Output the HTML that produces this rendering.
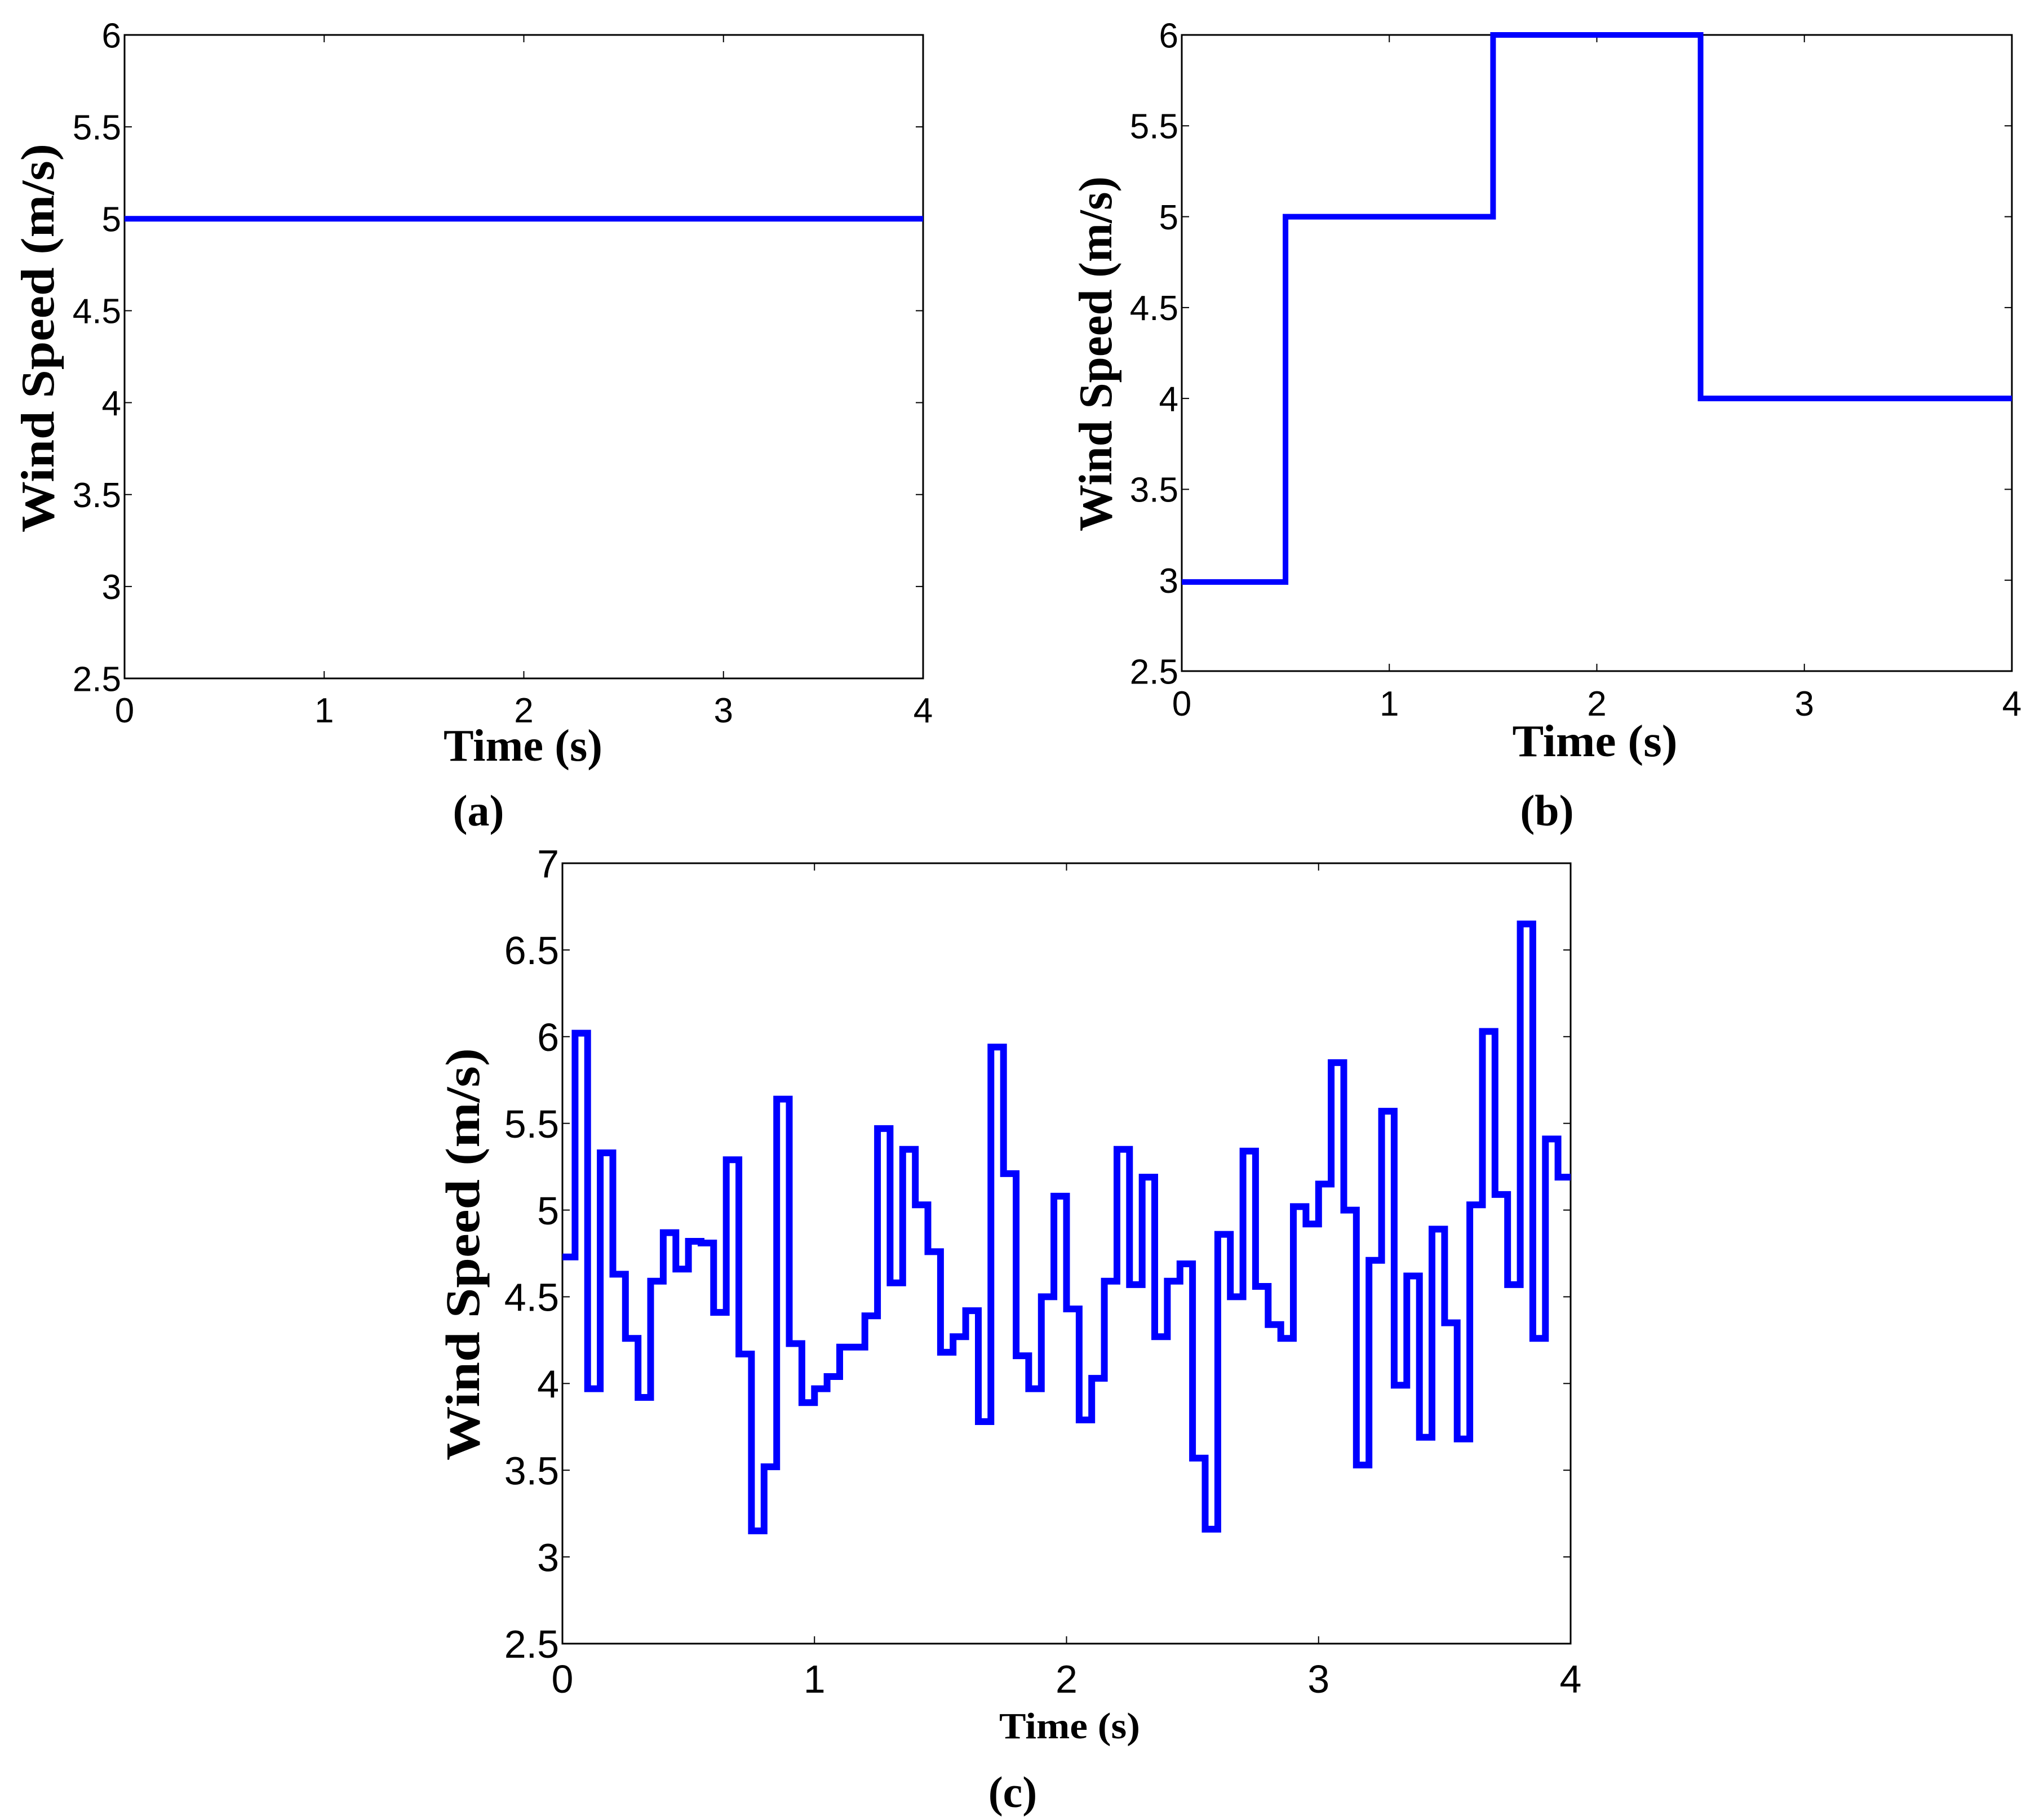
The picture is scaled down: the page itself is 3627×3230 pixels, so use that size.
<!DOCTYPE html>
<html><head><meta charset="utf-8"><style>
html,body{margin:0;padding:0;background:#fff}
svg{display:block}
</style></head><body>
<svg id="fig" width="3627" height="3230" viewBox="0 0 3627 3230" xmlns="http://www.w3.org/2000/svg"></svg>
<script>
// Panel (a) data
const aTimes = [0, 4];
const aValues = [5, 5];
// Panel (b) data (step series)
const bStepStarts = [0, 0.5, 1.5, 2.5];
const bStepValues = [2.99, 5, 6, 4];
// Panel (c) data: step every 0.05 s
const cStepWidth = 0.05;
const cValues = [4.73,6.02,3.97,5.33,4.63,4.26,3.92,4.59,4.87,4.66,4.82,4.81,4.41,5.29,4.17,3.15,3.52,5.64,4.23,3.89,
3.97,4.04,4.21,4.21,4.39,5.47,4.58,5.35,5.03,4.76,4.18,4.27,4.42,3.78,5.94,5.21,4.16,3.97,4.50,5.08,
4.43,3.79,4.03,4.59,5.35,4.57,5.19,4.27,4.59,4.69,3.57,3.16,4.86,4.50,5.34,4.56,4.34,4.26,5.02,4.92,
5.15,5.85,5.00,3.53,4.71,5.57,3.99,4.62,3.69,4.89,4.35,3.68,5.03,6.03,5.09,4.57,6.65,4.26,5.41,5.19];
const xTicks = [0,1,2,3,4];
const yTicksAB = [2.5,3,3.5,4,4.5,5,5.5,6];
const yTicksC = [2.5,3,3.5,4,4.5,5,5.5,6,6.5,7];

const NS = 'http://www.w3.org/2000/svg';
const svg = document.getElementById('fig');
function mk(tag, attrs, parent, text){
  const e = document.createElementNS(NS, tag);
  for (const k in attrs) e.setAttribute(k, attrs[k]);
  if (text !== undefined) e.textContent = text;
  (parent || svg).appendChild(e);
  return e;
}

function panel(id, box, yMin, yMax, yTicks, fs, lw, pathPts, ylab, xlab, cap){
  const g = mk('g', {});
  
  
  const sx = t => box.l + (t - 0) / 4 * (box.r - box.l);
  const sy = v => box.b - (v - yMin) / (yMax - yMin) * (box.b - box.t);
  const fr = mk('rect', {x: box.l, y: box.t, width: box.r - box.l, height: box.b - box.t, fill: 'none', stroke: '#000', 'stroke-width': 3}, g);
  
  
  const tl = 13;
  xTicks.forEach(t => {
    const x = sx(t);
    mk('line', {x1: x, y1: box.b, x2: x, y2: box.b - tl, stroke: '#000', 'stroke-width': 2}, g);
    mk('line', {x1: x, y1: box.t, x2: x, y2: box.t + tl, stroke: '#000', 'stroke-width': 2}, g);
    const lab = mk('text', {x: x, y: box.xtY, 'font-family': 'Liberation Sans, Arial, sans-serif', 'font-size': fs, 'text-anchor': 'middle'}, g, String(t));
    
    
  });
  yTicks.forEach(v => {
    const y = sy(v);
    mk('line', {x1: box.l, y1: y, x2: box.l + tl, y2: y, stroke: '#000', 'stroke-width': 2}, g);
    mk('line', {x1: box.r, y1: y, x2: box.r - tl, y2: y, stroke: '#000', 'stroke-width': 2}, g);
    const lab = mk('text', {x: box.l - 6, y: y + fs * 0.36, 'font-family': 'Liberation Sans, Arial, sans-serif', 'font-size': fs, 'text-anchor': 'end'}, g, String(v));
    
    
  });
  const d = pathPts.map((p, i) => (i ? 'L' : 'M') + sx(p[0]).toFixed(1) + ',' + sy(p[1]).toFixed(1)).join(' ');
  const line = mk('path', {d: d, fill: 'none', stroke: '#0000ff', 'stroke-width': lw, 'stroke-linejoin': 'miter'}, g);
  
  
  const yl = mk('text', {x: 0, y: 0, transform: 'translate(' + ylab.x + ',' + ylab.cy + ') rotate(-90)', 'font-family': 'Liberation Serif, Times New Roman, serif', 'font-weight': 'bold', 'font-size': ylab.fs, 'text-anchor': 'middle', textLength: ylab.len, lengthAdjust: 'spacingAndGlyphs'}, g, 'Wind Speed (m/s)');
  
  
  const xl = mk('text', {x: xlab.cx, y: xlab.y, 'font-family': 'Liberation Serif, Times New Roman, serif', 'font-weight': 'bold', 'font-size': xlab.fs, 'text-anchor': 'middle', textLength: xlab.len, lengthAdjust: 'spacingAndGlyphs'}, g, 'Time (s)');
  
  
  const cp = mk('text', {x: cap.cx, y: cap.y, 'font-family': 'Liberation Serif, Times New Roman, serif', 'font-size': 78, 'font-weight': 'bold', 'text-anchor': 'middle'}, g, cap.t);
  
  
}

const aPts = aTimes.map((t, i) => [t, aValues[i]]);
panel('a', {l:221, r:1638, t:62, b:1204, xtY:1282}, 2.5, 6, yTicksAB, 62, 10, aPts,
  {x:95, cy:600, fs:84, len:690}, {cx:928, y:1350, fs:80, len:282}, {cx:849, y:1465, t:'(a)'});

const bPts = [];
bStepStarts.forEach((t, i) => {
  const end = i + 1 < bStepStarts.length ? bStepStarts[i + 1] : 4;
  bPts.push([t, bStepValues[i]]);
  bPts.push([end, bStepValues[i]]);
});
panel('b', {l:2097, r:3570, t:62, b:1191, xtY:1270}, 2.5, 6, yTicksAB, 62, 10, bPts,
  {x:1972, cy:628, fs:84, len:630}, {cx:2830, y:1342, fs:80, len:293}, {cx:2745, y:1465, t:'(b)'});

const cPts = [];
cValues.forEach((v, i) => {
  cPts.push([i * cStepWidth, v]);
  cPts.push([(i + 1) * cStepWidth, v]);
});
panel('c', {l:998, r:2787, t:1532, b:2917, xtY:3004}, 2.5, 7, yTicksC, 70, 12, cPts,
  {x:850, cy:2226, fs:86, len:732}, {cx:1898, y:3085, fs:66, len:250}, {cx:1797, y:3207, t:'(c)'});
</script>
</body></html>
